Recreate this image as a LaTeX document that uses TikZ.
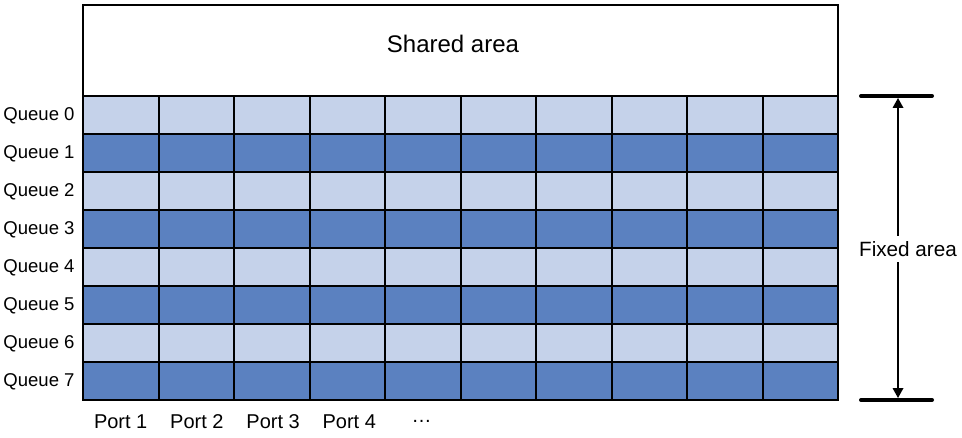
\documentclass[tikz,border=0pt]{standalone}
\usepackage{fontspec}
\setmainfont{Liberation Sans}
\usetikzlibrary{arrows.meta}

\definecolor{qlight}{RGB}{197,210,234}
\definecolor{qdark}{RGB}{91,129,192}

\tikzset{every picture/.style={line width=0.75pt}}
\tikzset{
	cellline/.style={line width=1.5pt},
	lbl/.style={inner sep=0pt, font=\fontsize{13.9}{16}\selectfont},
	portlbl/.style={inner sep=0pt, font=\fontsize{15}{17}\selectfont},
	bar/.style={line width=3pt, line cap=round},
	span/.style={line width=1pt, -{Triangle[length=7.5pt,width=8pt]}}
}

\begin{document}
\begin{tikzpicture}[x=0.75pt,y=0.75pt,yscale=-1,xscale=1]
	\useasboundingbox (0,0) rectangle (962,438);

	%Shared area
	\draw[cellline] (83,5) rectangle (838,96);
	% Text Node
	\node[inner sep=0pt, font=\fontsize{18}{20}\selectfont] (shared) at (453,44) {Shared area};

	%Queue rows
	\foreach \q in {0,...,7} {
		\pgfmathtruncatemacro{\odd}{mod(\q,2)}
		\ifnum\odd=1 \def\rowfill{qdark}\else\def\rowfill{qlight}\fi
		\fill[\rowfill] (83,96+38*\q) rectangle (838,134+38*\q);
		\node[lbl] (q\q) at (39,116+38*\q) {Queue \q};
	}

	%Grid lines
	\foreach \q in {1,...,7}
		\draw[cellline] (83,96+38*\q) -- (838,96+38*\q);
	\foreach \c in {1,...,9}
		\draw[cellline] (83+75.5*\c,96) -- (83+75.5*\c,400);
	\draw[cellline] (83,96) rectangle (838,400);

	% Text Node
	\foreach \p in {1,...,4}
		\node[portlbl] (port\p) at (44.5+76.2*\p,421.5) {Port \p};
	% Text Node
	\node[portlbl] (portmore) at (421.5,421.5) {\dots};

	%Fixed area bracket
	\draw[bar] (861,96) -- (932,96);
	\draw[bar] (861,400) -- (932,400);
	\coordinate (topbar) at (898,98);
	\coordinate (botbar) at (898,398);
	% Text Node
	\node[inner sep=4pt, font=\fontsize{15.5}{18}\selectfont] (fixed) at (908,249) {Fixed area};
	\draw[span] (fixed.north -| topbar) -- (topbar);
	\draw[span] (fixed.south -| botbar) -- (botbar);

\end{tikzpicture}
\end{document}
